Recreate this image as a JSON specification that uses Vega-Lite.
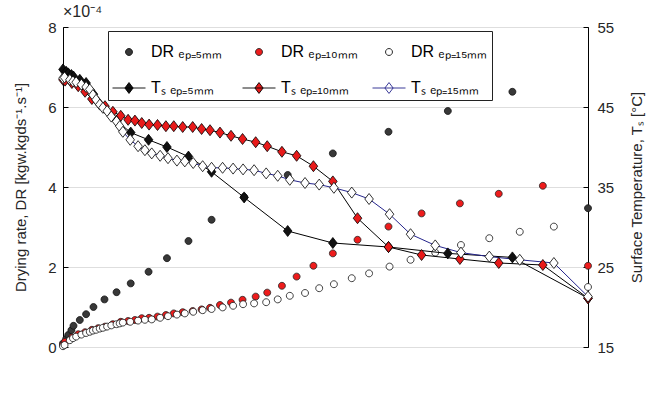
{
  "$schema": "https://vega.github.io/schema/vega-lite/v6.json",
  "width": 525,
  "height": 320,
  "autosize": {"type": "none"},
  "padding": {"left": 63, "top": 27, "right": 58, "bottom": 57},
  "background": "white",
  "title": {"text": "×10⁻⁴", "anchor": "start", "frame": "group", "fontSize": 16, "fontWeight": "normal", "color": "#262626", "offset": 0, "font": "Liberation Sans"},
  "config": {
    "font": "Liberation Sans",
    "view": {"stroke": "#000", "strokeWidth": 1},
    "axis": {
      "domainColor": "#000", "tickColor": "#000", "tickSize": -5,
      "labelColor": "#262626", "titleColor": "#262626",
      "labelFontSize": 15, "titleFontSize": 15, "titleFontWeight": "normal",
      "labelFont": "Liberation Sans", "titleFont": "Liberation Sans",
      "gridColor": "#dedede", "gridWidth": 1
    },
    "legend": {
      "orient": "none", "legendX": 45, "legendY": 4, "columns": 3,
      "symbolSize": 1089, "symbolStrokeWidth": 0.9,
      "labelFontSize": 16, "labelFont": "Liberation Sans", "labelColor": "#000",
      "labelOffset": 5, "columnPadding": 12, "rowPadding": 11, "padding": 4,
      "strokeColor": "#222", "fillColor": "white", "gridAlign": "all"
    }
  },
  "datasets": {
    "dr": [
      {"s": "DR5", "x": 0.000, "y": 0.09}, {"s": "DR5", "x": 0.006, "y": 0.2}, {"s": "DR5", "x": 0.010, "y": 0.3},
      {"s": "DR5", "x": 0.016, "y": 0.42}, {"s": "DR5", "x": 0.020, "y": 0.53}, {"s": "DR5", "x": 0.032, "y": 0.675},
      {"s": "DR5", "x": 0.044, "y": 0.82}, {"s": "DR5", "x": 0.058, "y": 1.0}, {"s": "DR5", "x": 0.079, "y": 1.19},
      {"s": "DR5", "x": 0.102, "y": 1.37}, {"s": "DR5", "x": 0.129, "y": 1.59}, {"s": "DR5", "x": 0.163, "y": 1.88},
      {"s": "DR5", "x": 0.198, "y": 2.22}, {"s": "DR5", "x": 0.239, "y": 2.65}, {"s": "DR5", "x": 0.283, "y": 3.18},
      {"s": "DR5", "x": 0.345, "y": 3.75}, {"s": "DR5", "x": 0.428, "y": 4.3}, {"s": "DR5", "x": 0.514, "y": 4.84},
      {"s": "DR5", "x": 0.620, "y": 5.38}, {"s": "DR5", "x": 0.733, "y": 5.9}, {"s": "DR5", "x": 0.856, "y": 6.38},
      {"s": "DR5", "x": 1.0, "y": 3.47},
      {"s": "DR10", "x": 0.000, "y": 0.05}, {"s": "DR10", "x": 0.004, "y": 0.13}, {"s": "DR10", "x": 0.017, "y": 0.24},
      {"s": "DR10", "x": 0.029, "y": 0.32}, {"s": "DR10", "x": 0.042, "y": 0.37}, {"s": "DR10", "x": 0.055, "y": 0.43},
      {"s": "DR10", "x": 0.067, "y": 0.47}, {"s": "DR10", "x": 0.080, "y": 0.51}, {"s": "DR10", "x": 0.095, "y": 0.57},
      {"s": "DR10", "x": 0.110, "y": 0.63}, {"s": "DR10", "x": 0.124, "y": 0.65}, {"s": "DR10", "x": 0.137, "y": 0.675},
      {"s": "DR10", "x": 0.150, "y": 0.72}, {"s": "DR10", "x": 0.164, "y": 0.73}, {"s": "DR10", "x": 0.180, "y": 0.76},
      {"s": "DR10", "x": 0.196, "y": 0.80}, {"s": "DR10", "x": 0.211, "y": 0.84}, {"s": "DR10", "x": 0.228, "y": 0.87},
      {"s": "DR10", "x": 0.247, "y": 0.90}, {"s": "DR10", "x": 0.264, "y": 0.94}, {"s": "DR10", "x": 0.280, "y": 0.98},
      {"s": "DR10", "x": 0.299, "y": 1.05}, {"s": "DR10", "x": 0.320, "y": 1.11}, {"s": "DR10", "x": 0.342, "y": 1.18},
      {"s": "DR10", "x": 0.367, "y": 1.26}, {"s": "DR10", "x": 0.389, "y": 1.36}, {"s": "DR10", "x": 0.417, "y": 1.53},
      {"s": "DR10", "x": 0.445, "y": 1.76}, {"s": "DR10", "x": 0.477, "y": 2.03}, {"s": "DR10", "x": 0.514, "y": 2.34},
      {"s": "DR10", "x": 0.561, "y": 2.68}, {"s": "DR10", "x": 0.620, "y": 3.01}, {"s": "DR10", "x": 0.683, "y": 3.34},
      {"s": "DR10", "x": 0.756, "y": 3.59}, {"s": "DR10", "x": 0.830, "y": 3.83}, {"s": "DR10", "x": 0.914, "y": 4.03},
      {"s": "DR10", "x": 1.0, "y": 2.03},
      {"s": "DR15", "x": 0.000, "y": 0.02}, {"s": "DR15", "x": 0.003, "y": 0.05}, {"s": "DR15", "x": 0.013, "y": 0.17},
      {"s": "DR15", "x": 0.019, "y": 0.22}, {"s": "DR15", "x": 0.025, "y": 0.26}, {"s": "DR15", "x": 0.035, "y": 0.31},
      {"s": "DR15", "x": 0.044, "y": 0.35}, {"s": "DR15", "x": 0.051, "y": 0.38}, {"s": "DR15", "x": 0.057, "y": 0.41},
      {"s": "DR15", "x": 0.063, "y": 0.43}, {"s": "DR15", "x": 0.070, "y": 0.46}, {"s": "DR15", "x": 0.076, "y": 0.48},
      {"s": "DR15", "x": 0.084, "y": 0.51}, {"s": "DR15", "x": 0.092, "y": 0.54}, {"s": "DR15", "x": 0.102, "y": 0.57},
      {"s": "DR15", "x": 0.108, "y": 0.59}, {"s": "DR15", "x": 0.114, "y": 0.61}, {"s": "DR15", "x": 0.128, "y": 0.63},
      {"s": "DR15", "x": 0.143, "y": 0.66}, {"s": "DR15", "x": 0.156, "y": 0.68}, {"s": "DR15", "x": 0.169, "y": 0.69},
      {"s": "DR15", "x": 0.185, "y": 0.73}, {"s": "DR15", "x": 0.200, "y": 0.77}, {"s": "DR15", "x": 0.217, "y": 0.81},
      {"s": "DR15", "x": 0.232, "y": 0.84}, {"s": "DR15", "x": 0.248, "y": 0.88}, {"s": "DR15", "x": 0.266, "y": 0.92},
      {"s": "DR15", "x": 0.283, "y": 0.95}, {"s": "DR15", "x": 0.304, "y": 0.99}, {"s": "DR15", "x": 0.324, "y": 1.03},
      {"s": "DR15", "x": 0.343, "y": 1.07}, {"s": "DR15", "x": 0.364, "y": 1.09}, {"s": "DR15", "x": 0.387, "y": 1.12},
      {"s": "DR15", "x": 0.409, "y": 1.19}, {"s": "DR15", "x": 0.432, "y": 1.28}, {"s": "DR15", "x": 0.461, "y": 1.35},
      {"s": "DR15", "x": 0.488, "y": 1.47}, {"s": "DR15", "x": 0.516, "y": 1.57}, {"s": "DR15", "x": 0.550, "y": 1.72},
      {"s": "DR15", "x": 0.583, "y": 1.84}, {"s": "DR15", "x": 0.622, "y": 2.01}, {"s": "DR15", "x": 0.662, "y": 2.18},
      {"s": "DR15", "x": 0.709, "y": 2.36}, {"s": "DR15", "x": 0.758, "y": 2.55}, {"s": "DR15", "x": 0.812, "y": 2.72},
      {"s": "DR15", "x": 0.870, "y": 2.88}, {"s": "DR15", "x": 0.935, "y": 3.01}, {"s": "DR15", "x": 1.0, "y": 1.5}
    ],
    "ts": [
      {"s": "T5", "x": 0.000, "y": 49.7}, {"s": "T5", "x": 0.006, "y": 49.4}, {"s": "T5", "x": 0.010, "y": 49.2},
      {"s": "T5", "x": 0.016, "y": 49.0}, {"s": "T5", "x": 0.020, "y": 48.8}, {"s": "T5", "x": 0.032, "y": 48.4},
      {"s": "T5", "x": 0.044, "y": 48.0}, {"s": "T5", "x": 0.058, "y": 46.6}, {"s": "T5", "x": 0.079, "y": 44.9},
      {"s": "T5", "x": 0.102, "y": 43.3}, {"s": "T5", "x": 0.129, "y": 41.8}, {"s": "T5", "x": 0.163, "y": 40.9},
      {"s": "T5", "x": 0.198, "y": 40.0}, {"s": "T5", "x": 0.239, "y": 38.8}, {"s": "T5", "x": 0.283, "y": 36.9},
      {"s": "T5", "x": 0.345, "y": 33.7}, {"s": "T5", "x": 0.428, "y": 29.5}, {"s": "T5", "x": 0.514, "y": 28.0},
      {"s": "T5", "x": 0.620, "y": 27.5}, {"s": "T5", "x": 0.733, "y": 26.7}, {"s": "T5", "x": 0.856, "y": 26.2},
      {"s": "T5", "x": 1.0, "y": 21.1},
      {"s": "T10", "x": 0.000, "y": 48.4}, {"s": "T10", "x": 0.004, "y": 48.3}, {"s": "T10", "x": 0.017, "y": 48.0},
      {"s": "T10", "x": 0.029, "y": 47.6}, {"s": "T10", "x": 0.042, "y": 46.9}, {"s": "T10", "x": 0.055, "y": 46.0},
      {"s": "T10", "x": 0.067, "y": 45.6}, {"s": "T10", "x": 0.080, "y": 45.1}, {"s": "T10", "x": 0.095, "y": 44.4},
      {"s": "T10", "x": 0.110, "y": 43.9}, {"s": "T10", "x": 0.124, "y": 43.4}, {"s": "T10", "x": 0.137, "y": 43.3},
      {"s": "T10", "x": 0.150, "y": 43.0}, {"s": "T10", "x": 0.164, "y": 42.8}, {"s": "T10", "x": 0.180, "y": 42.75},
      {"s": "T10", "x": 0.196, "y": 42.6}, {"s": "T10", "x": 0.211, "y": 42.6}, {"s": "T10", "x": 0.228, "y": 42.5},
      {"s": "T10", "x": 0.247, "y": 42.5}, {"s": "T10", "x": 0.264, "y": 42.25}, {"s": "T10", "x": 0.280, "y": 42.1},
      {"s": "T10", "x": 0.299, "y": 41.8}, {"s": "T10", "x": 0.320, "y": 41.4}, {"s": "T10", "x": 0.342, "y": 41.0},
      {"s": "T10", "x": 0.367, "y": 40.6}, {"s": "T10", "x": 0.389, "y": 40.1}, {"s": "T10", "x": 0.417, "y": 39.4},
      {"s": "T10", "x": 0.445, "y": 38.9}, {"s": "T10", "x": 0.477, "y": 37.6}, {"s": "T10", "x": 0.514, "y": 35.7},
      {"s": "T10", "x": 0.561, "y": 31.1}, {"s": "T10", "x": 0.620, "y": 27.5}, {"s": "T10", "x": 0.683, "y": 26.5},
      {"s": "T10", "x": 0.756, "y": 26.0}, {"s": "T10", "x": 0.830, "y": 25.5}, {"s": "T10", "x": 0.914, "y": 25.25},
      {"s": "T10", "x": 1.0, "y": 21.1},
      {"s": "T15", "x": 0.000, "y": 48.6}, {"s": "T15", "x": 0.003, "y": 48.7}, {"s": "T15", "x": 0.013, "y": 48.4},
      {"s": "T15", "x": 0.019, "y": 48.2}, {"s": "T15", "x": 0.025, "y": 48.1}, {"s": "T15", "x": 0.035, "y": 47.8},
      {"s": "T15", "x": 0.044, "y": 47.5}, {"s": "T15", "x": 0.051, "y": 47.2}, {"s": "T15", "x": 0.057, "y": 46.5},
      {"s": "T15", "x": 0.063, "y": 45.9}, {"s": "T15", "x": 0.070, "y": 45.3}, {"s": "T15", "x": 0.076, "y": 44.9},
      {"s": "T15", "x": 0.084, "y": 44.5}, {"s": "T15", "x": 0.092, "y": 43.8}, {"s": "T15", "x": 0.102, "y": 43.2},
      {"s": "T15", "x": 0.108, "y": 42.6}, {"s": "T15", "x": 0.114, "y": 41.9}, {"s": "T15", "x": 0.128, "y": 40.9},
      {"s": "T15", "x": 0.143, "y": 40.1}, {"s": "T15", "x": 0.156, "y": 39.6}, {"s": "T15", "x": 0.169, "y": 39.2},
      {"s": "T15", "x": 0.185, "y": 38.9}, {"s": "T15", "x": 0.200, "y": 38.6}, {"s": "T15", "x": 0.217, "y": 38.3},
      {"s": "T15", "x": 0.232, "y": 38.2}, {"s": "T15", "x": 0.248, "y": 38.0}, {"s": "T15", "x": 0.266, "y": 37.6},
      {"s": "T15", "x": 0.283, "y": 37.4}, {"s": "T15", "x": 0.304, "y": 37.4}, {"s": "T15", "x": 0.324, "y": 37.3},
      {"s": "T15", "x": 0.343, "y": 37.2}, {"s": "T15", "x": 0.364, "y": 37.1}, {"s": "T15", "x": 0.387, "y": 36.7},
      {"s": "T15", "x": 0.409, "y": 36.4}, {"s": "T15", "x": 0.432, "y": 35.9}, {"s": "T15", "x": 0.461, "y": 35.5},
      {"s": "T15", "x": 0.488, "y": 35.3}, {"s": "T15", "x": 0.516, "y": 34.9}, {"s": "T15", "x": 0.550, "y": 34.3},
      {"s": "T15", "x": 0.583, "y": 33.5}, {"s": "T15", "x": 0.622, "y": 31.6}, {"s": "T15", "x": 0.662, "y": 29.1},
      {"s": "T15", "x": 0.709, "y": 27.7}, {"s": "T15", "x": 0.758, "y": 26.8}, {"s": "T15", "x": 0.812, "y": 26.3},
      {"s": "T15", "x": 0.870, "y": 25.9}, {"s": "T15", "x": 0.935, "y": 25.5}, {"s": "T15", "x": 1.0, "y": 21.3}
    ]
  },
  "layer": [
    {
      "data": {"name": "dr"},
      "mark": {"type": "point", "filled": true, "size": 1089, "strokeWidth": 0.8, "opacity": 1},
      "encoding": {
        "x": {"field": "x", "type": "quantitative", "scale": {"domain": [0, 1], "nice": false},
          "axis": {"values": [0, 0.2, 0.4, 0.6, 0.8, 1], "format": "~g", "title": "Moisture ratio, Xr [-]", "grid": true, "labelPadding": 11, "titlePadding": 10}},
        "y": {"field": "y", "type": "quantitative", "scale": {"domain": [0, 8], "nice": false},
          "axis": {"orient": "left", "values": [0, 2, 4, 6, 8], "title": "Drying rate, DR [kgw.kgds⁻¹.s⁻¹]", "grid": true, "labelPadding": 12, "titlePadding": 19}},
        "shape": {"field": "s", "type": "nominal",
          "scale": {"domain": ["DR5", "T5", "DR10", "T10", "DR15", "T15"],
            "range": ["M0.21,0A0.21,0.21,0,1,1,-0.21,0A0.21,0.21,0,1,1,0.21,0Z", "M-1,0L1,0M0,-0.33L0.25,0L0,0.33L-0.25,0Z", "M0.21,0A0.21,0.21,0,1,1,-0.21,0A0.21,0.21,0,1,1,0.21,0Z",
              "M-1,0L1,0M0,-0.33L0.25,0L0,0.33L-0.25,0Z", "M0.21,0A0.21,0.21,0,1,1,-0.21,0A0.21,0.21,0,1,1,0.21,0Z", "M-1,0L1,0M0,-0.33L0.25,0L0,0.33L-0.25,0Z"]},
          "legend": {"title": null, "labelExpr": "datum.label == 'DR5' ? 'DR ₑₚ₌₅ₘₘ' : datum.label == 'DR10' ? 'DR ₑₚ₌₁₀ₘₘ' : datum.label == 'DR15' ? 'DR ₑₚ₌₁₅ₘₘ' : datum.label == 'T5' ? 'Tₛ ₑₚ₌₅ₘₘ' : datum.label == 'T10' ? 'Tₛ ₑₚ₌₁₀ₘₘ' : 'Tₛ ₑₚ₌₁₅ₘₘ'"}},
        "fill": {"field": "s", "type": "nominal",
          "scale": {"domain": ["DR5", "T5", "DR10", "T10", "DR15", "T15"], "range": ["#383838", "#111111", "#ee1c1c", "#e81a1a", "#ffffff", "#ffffff"]},
          "legend": {"title": null}},
        "stroke": {"field": "s", "type": "nominal",
          "scale": {"domain": ["DR5", "T5", "DR10", "T10", "DR15", "T15"], "range": ["#111111", "#000000", "#222222", "#000000", "#111111", "#25258c"]},
          "legend": {"title": null}}
      }
    },
    {
      "data": {"name": "ts"},
      "mark": {"type": "line", "strokeWidth": 1},
      "encoding": {
        "x": {"field": "x", "type": "quantitative", "scale": {"domain": [0, 1], "nice": false}, "axis": null},
        "y": {"field": "y", "type": "quantitative", "scale": {"domain": [15, 55], "nice": false},
          "axis": {"orient": "right", "values": [15, 25, 35, 45, 55], "title": "Surface Temperature, Tₛ [°C]", "grid": false, "labelPadding": 14, "titlePadding": 16, "titleAngle": 270, "titleBaseline": "top"}},
        "stroke": {"field": "s", "type": "nominal",
          "scale": {"domain": ["DR5", "T5", "DR10", "T10", "DR15", "T15"], "range": ["#111111", "#000000", "#222222", "#000000", "#111111", "#25258c"]},
          "legend": null}
      }
    },
    {
      "data": {"name": "ts"},
      "mark": {"type": "point", "filled": true, "shape": "M0,-1L0.78,0L0,1L-0.78,0Z", "size": 121, "stroke": "#000", "strokeWidth": 0.8, "opacity": 1},
      "encoding": {
        "x": {"field": "x", "type": "quantitative", "scale": {"domain": [0, 1], "nice": false}, "axis": null},
        "y": {"field": "y", "type": "quantitative", "scale": {"domain": [15, 55], "nice": false}, "axis": null},
        "fill": {"field": "s", "type": "nominal",
          "scale": {"domain": ["DR5", "T5", "DR10", "T10", "DR15", "T15"], "range": ["#383838", "#111111", "#ee1c1c", "#e81a1a", "#ffffff", "#ffffff"]},
          "legend": null}
      }
    }
  ],
  "resolve": {"scale": {"y": "independent"}}
}
